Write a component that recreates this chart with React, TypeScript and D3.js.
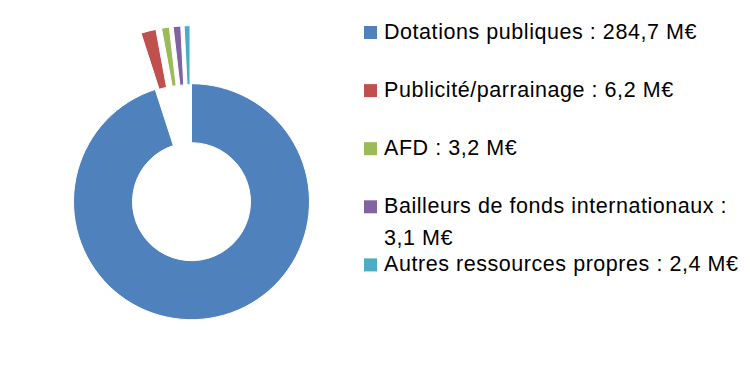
import React from "react";
import * as d3 from "d3";

const categories = [
  "Dotations publiques",
  "Publicité/parrainage",
  "AFD",
  "Bailleurs de fonds internationaux",
  "Autres ressources propres",
];
const values = [284.7, 6.2, 3.2, 3.1, 2.4];
const valueLabels = ["284,7 M€", "6,2 M€", "3,2 M€", "3,1 M€", "2,4 M€"];
const colors = ["#4F81BD", "#C0504D", "#9BBB59", "#8064A2", "#4BACC6"];
const exploded = [false, true, true, true, true];

const W = 750;
const H = 367;
const cx = 191.5;
const cy = 201.7;
const outerR = 118;
const innerR = 59;
const explodeDist = 58;

const FONT = "'Liberation Sans', Arial, sans-serif";

export default function App() {
  const data = categories.map((c, i) => ({ c, v: values[i], i }));
  const pie = d3
    .pie<{ c: string; v: number; i: number }>()
    .value((d) => d.v)
    .sort(null)
    .startAngle(0)
    .endAngle(2 * Math.PI);
  const arcs = pie(data);
  const arc = d3
    .arc<d3.PieArcDatum<{ c: string; v: number; i: number }>>()
    .innerRadius(innerR)
    .outerRadius(outerR);

  const legendX = 364;
  const legendTop = 39;
  const legendStep = 58.1;
  const lineH = 31.6;
  const sq = 13;

  return (
    <svg
      width={W}
      height={H}
      style={{ position: "absolute", left: 0, top: 0, background: "#fff" }}
    >
      <g transform={`translate(${cx},${cy})`}>
        {arcs.map((a, i) => {
          const mid = (a.startAngle + a.endAngle) / 2;
          const d = exploded[i] ? explodeDist : 0;
          const tx = Math.sin(mid) * d;
          const ty = -Math.cos(mid) * d;
          return (
            <path
              key={i}
              d={arc(a) || ""}
              transform={`translate(${tx},${ty})`}
              fill={colors[i]}
              stroke="#fff"
              strokeWidth={1}
            />
          );
        })}
      </g>
      <g fontFamily={FONT} fontSize={21.5} fill="#000" letterSpacing={0.55}>
        {categories.map((c, i) => {
          const y = legendTop + i * legendStep;
          const wrap = c.length > 28;
          return (
            <g key={i}>
              <rect
                x={legendX}
                y={y - 13}
                width={sq}
                height={sq}
                fill={colors[i]}
              />
              {wrap ? (
                <text x={legendX + 20} y={y}>
                  <tspan x={legendX + 20} y={y}>{`${c} :`}</tspan>
                  <tspan x={legendX + 20} y={y + lineH}>
                    {valueLabels[i]}
                  </tspan>
                </text>
              ) : (
                <text x={legendX + 20} y={y}>{`${c} : ${valueLabels[i]}`}</text>
              )}
            </g>
          );
        })}
      </g>
    </svg>
  );
}
